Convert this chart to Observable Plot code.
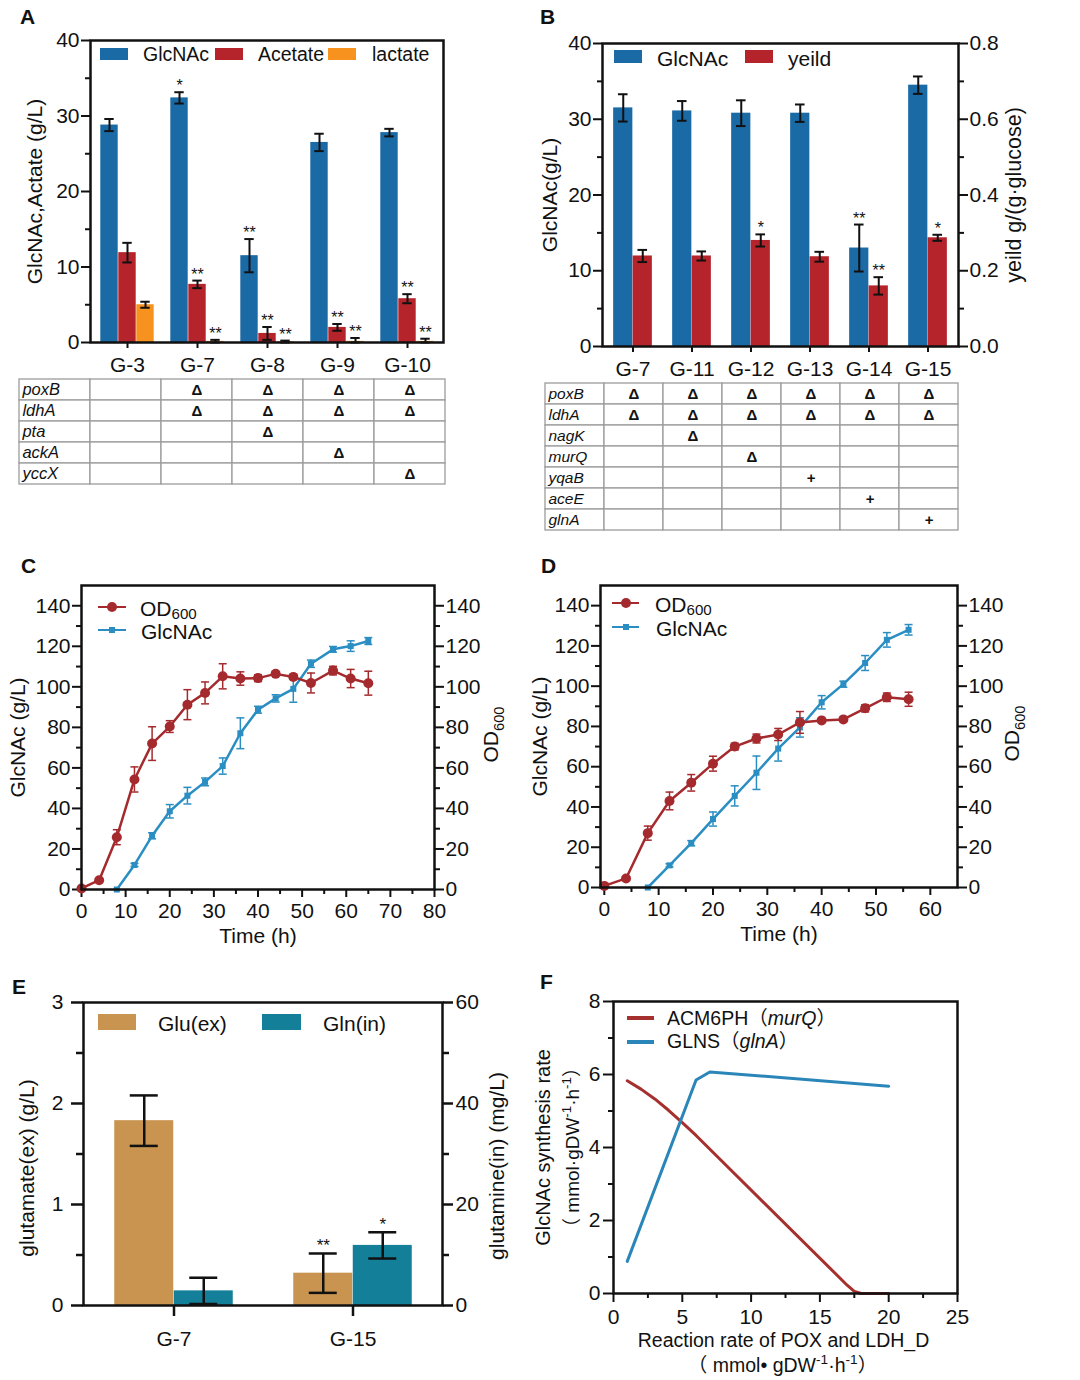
<!DOCTYPE html>
<html>
<head>
<meta charset="utf-8">
<script src="https://cdn.jsdelivr.net/npm/d3@7"></script>
<script src="https://cdn.jsdelivr.net/npm/@observablehq/plot@0.6"></script>
<style>
html,body{margin:0;padding:0;background:#fff;}
#root{position:relative;width:1080px;height:1380px;overflow:hidden;background:#fff;font-family:"Liberation Sans",Arial,Helvetica,"Noto Sans CJK SC",sans-serif;color:#111;}
#root sub{font-size:0.72em;vertical-align:-0.2em;line-height:0;}
#root svg{position:absolute;}
</style>
</head>
<body>
<div id="root"></div>
<script>
// ================= DATA =================
// Panel A
const strainsA = ["G-3","G-7","G-8","G-9","G-10"];
const seriesA = ["GlcNAc","Acetate","lactate"];
const glcnacA = [28.8,32.4,11.5,26.5,27.8];
const glcnacAErr = [0.8,0.75,2.2,1.15,0.5];
const glcnacASig = ["","*","**","",""];
const acetateA = [11.9,7.7,1.2,2.0,5.8];
const acetateAErr = [1.3,0.5,0.85,0.45,0.6];
const acetateASig = ["","**","**","**","**"];
const lactateA = [5.0,0.15,0.1,0.15,0.15];
const lactateAErr = [0.4,0.2,0.15,0.45,0.35];
const lactateASig = ["","**","**","**","**"];
const genesA = ["poxB","ldhA","pta","ackA","yccX"];
const modsA = [
  ["","Δ","Δ","Δ","Δ"],
  ["","Δ","Δ","Δ","Δ"],
  ["","","Δ","",""],
  ["","","","Δ",""],
  ["","","","","Δ"]
];
// Panel B
const strainsB = ["G-7","G-11","G-12","G-13","G-14","G-15"];
const seriesB = ["GlcNAc","yeild"];
const glcnacB = [31.5,31.1,30.8,30.8,13.0,34.5];
const glcnacBErr = [1.8,1.3,1.7,1.15,3.1,1.15];
const glcnacBSig = ["","","","","**",""];
const yieldB = [0.239,0.239,0.28,0.237,0.16,0.287];
const yieldBErr = [0.016,0.012,0.016,0.013,0.023,0.008];
const yieldBSig = ["","","*","","**","*"];
const genesB = ["poxB","ldhA","nagK","murQ","yqaB","aceE","glnA"];
const modsB = [
  ["Δ","Δ","Δ","Δ","Δ","Δ"],
  ["Δ","Δ","Δ","Δ","Δ","Δ"],
  ["","Δ","","","",""],
  ["","","Δ","","",""],
  ["","","","+","",""],
  ["","","","","+",""],
  ["","","","","","+"]
];
// Panel C
const timeC_OD = [0,4,8,12,16,20,24,28,32,36,40,44,48,52,57,61,65];
const odC = [0.5,4.6,25.8,54.3,72,80.4,91.2,97,105.2,104.1,104.3,106.4,104.9,101.9,108,104.1,101.8];
const odCErr = [0,0.5,3.7,6.2,8.3,2.9,7.4,5.4,6.2,3.3,1.7,0.9,1,4.9,2.1,4.5,5.9];
const timeC_G = [8,12,16,20,24,28,32,36,40,44,48,52,57,61,65];
const glcC = [0,12.1,26.5,38.6,46.3,53.1,60.9,77.1,88.7,94.3,99,111.4,118.5,120.1,122.6];
const glcCErr = [0,0.8,1.5,3.3,4.1,1.9,4,7.6,1.7,1.8,6.6,1.8,1.4,2.6,1.7];
// Panel D
const timeD_OD = [0,4,8,12,16,20,24,28,32,36,40,44,48,52,56];
const odD = [0.8,4.5,27,43,52,61.5,70,74,76,82,83,83.5,89,94.5,93.5];
const odDErr = [0,0.5,3.5,4.4,4.1,3.7,1.7,2.2,3,5.4,0.5,1,1.8,2.1,3.5];
const timeD_G = [8,12,16,20,24,28,32,36,40,44,48,52,56];
const glcD = [0,11,22,34,45.5,57,69,79.5,92,101,111.5,123,128];
const glcDErr = [0,0.8,1.3,3.5,5,8.3,6.2,4.8,3.3,1.5,3.7,3.6,2.6];
const seriesCD = ["OD<sub>600</sub>","GlcNAc"];
// Panel E
const strainsE = ["G-7","G-15"];
const seriesE = ["Glu(ex)","Gln(in)"];
const gluE = [1.83,0.32];
const gluEErr = [0.25,0.195];
const gluESig = ["","**"];
const glnE = [2.9,11.9];          // mg/L
const glnEErr = [2.6,2.6];
const glnESig = ["","*"];
// Panel F
const rateMurQ = [1,2,3,4,5,6,17,17.5,18,20];
const murQ = [5.83,5.6,5.33,5.02,4.68,4.33,0.22,0.06,0,0];
const rateGlnA = [1,6,7,20];
const glnA = [0.88,5.85,6.07,5.68];
const seriesF = ["ACM6PH（<i>murQ</i>）","GLNS（<i>glnA</i>）"];

// ================= STYLE =================
const FONT = '"Liberation Sans", Arial, Helvetica, "Noto Sans CJK SC", sans-serif';
const INK = "#111";
const BLUE = "#1a6aa6", RED = "#b5232b", ORANGE = "#f7921e";
const RED_L = "#a52a2d", BLUE_L = "#2a8ec2";
const TAN = "#c8944f", TEAL = "#137f98";
const RED_F = "#a5302d", BLUE_F = "#2a86b8";
const TICK = 21;

const root = document.getElementById("root");

function base(w, h, m) {
  return {width:w, height:h, marginLeft:m[0], marginRight:m[1], marginTop:m[2], marginBottom:m[3],
    style:{fontFamily:FONT, color:INK, background:"transparent", overflow:"visible"}};
}
function title(str, o) {
  return Plot.text([str], {text:d => d, textAnchor:"middle", lineAnchor:"middle", ...o});
}
function yAx(anchor, major, minor, o = {}) {
  const {fmt = d => d, fontSize = TICK, size = 9, msize = 5, pad = 2, sw = 2} = o;
  return [
    Plot.axisY(major, {anchor, tickSize:size, tickPadding:pad, tickFormat:fmt, fontSize, label:null, strokeWidth:sw}),
    Plot.axisY(minor, {anchor, tickSize:msize, tickFormat:() => "", label:null, strokeWidth:sw})
  ];
}
function xAx(major, minor, o = {}) {
  const {fontSize = TICK, size = 8, msize = 5, pad = 6, sw = 2} = o;
  return [
    Plot.axisX(major, {tickSize:size, tickPadding:pad, fontSize, label:null, strokeWidth:sw}),
    Plot.axisX(minor, {tickSize:msize, tickFormat:() => "", label:null, strokeWidth:sw})
  ];
}
function barSeries(data, o) {
  const lo = d => Math.max(0, o.y(d) - o.err(d));
  const hi = d => o.y(d) + o.err(d);
  const marks = [
    Plot.barY(data, {x:o.x, y:o.y, fill:o.fill, dx:o.dx, insetLeft:o.inset, insetRight:o.inset}),
    Plot.ruleX(data, {x:o.x, y1:lo, y2:hi, dx:o.dx, stroke:INK, strokeWidth:o.sw}),
    Plot.tickY(data, {x:o.x, y:hi, dx:o.dx, insetLeft:o.capInset, insetRight:o.capInset, stroke:INK, strokeWidth:o.sw}),
    Plot.tickY(data, {x:o.x, y:lo, dx:o.dx, insetLeft:o.capInset, insetRight:o.capInset, stroke:INK, strokeWidth:o.sw})
  ];
  if (o.sig) marks.push(Plot.text(data, {x:o.x, y:hi, text:o.sig, dx:o.dx, dy:o.sdy ?? -1, lineAnchor:"bottom", fontSize:o.sfs ?? 16}));
  return marks;
}
const capSym = {draw(ctx, size) { const r = Math.sqrt(size / Math.PI); ctx.moveTo(-r, 0); ctx.lineTo(r, 0); }};
function timeSeries(data, {stroke, symbol, r, capR}) {
  const withErr = data.filter(d => d.e > 0.6);
  return [
    Plot.ruleX(withErr, {x:"t", y1:d => d.v - d.e, y2:d => d.v + d.e, stroke, strokeWidth:1.5}),
    Plot.dot(withErr, {x:"t", y:d => d.v + d.e, symbol:capSym, r:capR, stroke, strokeWidth:1.5, fill:"none"}),
    Plot.dot(withErr, {x:"t", y:d => d.v - d.e, symbol:capSym, r:capR, stroke, strokeWidth:1.5, fill:"none"}),
    Plot.line(data, {x:"t", y:"v", stroke, strokeWidth:2.5}),
    Plot.dot(data, {x:"t", y:"v", symbol, r, fill:stroke, stroke:"none"})
  ];
}
function tablePlot(cols, genes, mods, w, h, fs) {
  const dx = ["__gene", ...cols];
  const bw = (w - 4) / dx.length;
  const cells = [];
  genes.forEach((g, r) => dx.forEach((c, k) => cells.push({r:g, c, v: k === 0 ? g : mods[r][k - 1]})));
  return Plot.plot({
    ...base(w, h, [2, 2, 2, 2]),
    x:{type:"band", domain:dx, padding:0, axis:null},
    y:{type:"band", domain:genes, padding:0, axis:null},
    marks:[
      Plot.cell(cells, {x:"c", y:"r", fill:"white", stroke:"#9c9c9c", strokeWidth:1.3, inset:0}),
      Plot.text(cells.filter(d => d.c === "__gene"), {x:"c", y:"r", text:"v", textAnchor:"start", dx:-bw / 2 + 3, fontStyle:"italic", fontSize:fs}),
      Plot.text(cells.filter(d => d.c !== "__gene" && d.v), {x:"c", y:"r", text:"v", fontSize:15, fontWeight:"bold"})
    ]
  });
}
function richText(svg) {
  svg.querySelectorAll("text").forEach(t => {
    const s = t.textContent;
    if (!/[\^_]\{/.test(s)) return;
    const fs = parseFloat(getComputedStyle(t).fontSize) || 16;
    while (t.firstChild) t.removeChild(t.firstChild);
    const re = /([\^_])\{([^}]*)\}/g;
    let last = 0, m, shift = 0;
    const add = (str, kind) => {
      if (!str) return;
      const ts = document.createElementNS("http://www.w3.org/2000/svg", "tspan");
      const target = kind === "^" ? -0.4 * fs : kind === "_" ? 0.28 * fs : 0;
      if (target !== shift) ts.setAttribute("dy", (target - shift).toFixed(2));
      shift = target;
      if (kind) ts.setAttribute("font-size", (0.7 * fs).toFixed(2));
      ts.textContent = str;
      t.appendChild(ts);
    };
    while ((m = re.exec(s))) { add(s.slice(last, m.index), null); add(m[2], m[1]); last = m.index + m[0].length; }
    add(s.slice(last), null);
  });
}
function place(svg, left, top) {
  svg.style.left = left + "px"; svg.style.top = top + "px";
  root.appendChild(svg); richText(svg); return svg;
}
function div(html, css) { const d = document.createElement("div"); d.innerHTML = html; d.style.cssText = "position:absolute;" + css; root.appendChild(d); return d; }
function label(html, x, cy, size, extra = "") { return div(html, `left:${x}px;top:${cy}px;font-size:${size}px;line-height:1;transform:translateY(-50%);white-space:nowrap;color:${INK};${extra}`); }
function swatch(x, y, w, h, c) { div("", `left:${x}px;top:${y}px;width:${w}px;height:${h}px;background:${c};`); }
function lineKey(x1, x2, cy, color, sw, marker) {
  div("", `left:${x1}px;top:${cy - sw / 2}px;width:${x2 - x1}px;height:${sw}px;background:${color};`);
  const mx = (x1 + x2) / 2;
  if (marker === "circle") div("", `left:${mx - 5}px;top:${cy - 5}px;width:10px;height:10px;border-radius:50%;background:${color};`);
  if (marker === "square") div("", `left:${mx - 3}px;top:${cy - 3}px;width:6px;height:6px;background:${color};`);
}

// ================= PANEL A =================
const recA = strainsA.map((s, i) => ({s, g:glcnacA[i], ge:glcnacAErr[i], gs:glcnacASig[i], a:acetateA[i], ae:acetateAErr[i], as:acetateASig[i], l:lactateA[i], le:lactateAErr[i], ls:lactateASig[i]}));
const optA = {x:"s", inset:26.3, capInset:30.3, sw:2};
place(Plot.plot({
  ...base(540, 375, [90, 97, 40, 33]),
  x:{type:"band", domain:strainsA, padding:0},
  y:{domain:[0, 40]},
  marks:[
    ...barSeries(recA, {...optA, y:d => d.g, err:d => d.ge, sig:d => d.gs, fill:BLUE, dx:-18}),
    ...barSeries(recA, {...optA, y:d => d.a, err:d => d.ae, sig:d => d.as, fill:RED, dx:0}),
    ...barSeries(recA, {...optA, y:d => d.l, err:d => d.le, sig:d => d.ls, fill:ORANGE, dx:18}),
    Plot.axisX({tickSize:6, tickPadding:9, fontSize:21, label:null, strokeWidth:2}),
    ...yAx("left", [0, 10, 20, 30, 40], [5, 15, 25, 35]),
    title("GlcNAc,Actate (g/L)", {frameAnchor:"left", dx:-55, rotate:-90, fontSize:21}),
    Plot.frame({stroke:INK, strokeWidth:2.5})
  ]
}), 0, 0);
place(tablePlot(strainsA, genesA, modsA, 431, 113, 16.5), 16, 375);
[[BLUE, 100, 143], [RED, 215, 258], [ORANGE, 328, 372]].forEach(([c, sx, tx], i) => {
  swatch(sx, 48, 28, 12, c); label(seriesA[i], tx, 55, 19.5);
});

// ================= PANEL B =================
const recB = strainsB.map((s, i) => ({s, g:glcnacB[i], ge:glcnacBErr[i], gs:glcnacBSig[i], y:yieldB[i], ye:yieldBErr[i], ys:yieldBSig[i]}));
const optB = {x:"s", inset:19.9, capInset:24.7, sw:2};
place(Plot.plot({
  ...base(540, 380, [62, 122, 43, 34]),
  x:{type:"band", domain:strainsB, padding:0},
  y:{domain:[0, 40]},
  marks:[
    ...barSeries(recB, {...optB, y:d => d.g, err:d => d.ge, sig:d => d.gs, fill:BLUE, dx:-9.75}),
    ...barSeries(recB, {...optB, y:d => d.y * 50, err:d => d.ye * 50, sig:d => d.ys, fill:RED, dx:9.75}),
    Plot.axisX({tickSize:6, tickPadding:9, fontSize:21, label:null, strokeWidth:2}),
    ...yAx("left", [0, 10, 20, 30, 40], [5, 15, 25, 35]),
    ...yAx("right", [0, 10, 20, 30, 40], [5, 15, 25, 35], {fmt:d => (d / 50).toFixed(1)}),
    title("GlcNAc(g/L)", {frameAnchor:"left", dx:-52, rotate:-90, fontSize:21}),
    title("yeild g/(g·glucose)", {frameAnchor:"right", dx:56, rotate:-90, fontSize:21.5}),
    Plot.frame({stroke:INK, strokeWidth:2.5})
  ]
}), 540, 0);
place(tablePlot(strainsB, genesB, modsB, 417, 151, 15.5), 543, 381);
[[BLUE, 614, 657], [RED, 745, 788]].forEach(([c, sx, tx], i) => {
  swatch(sx, 50, 28, 13, c); label(seriesB[i], tx, 58, 21);
});

// ================= PANEL C / D =================
function growthPlot(odT, od, odE, gT, g, gE, xDomain, xMajor, xMinor, m, ylDx, odDx) {
  const recOD = od.map((v, i) => ({t:odT[i], v, e:odE[i]}));
  const recG = g.map((v, i) => ({t:gT[i], v, e:gE[i]}));
  const yMajor = [0, 20, 40, 60, 80, 100, 120, 140], yMinor = [10, 30, 50, 70, 90, 110, 130];
  return Plot.plot({
    ...base(540, 400, m),
    x:{domain:xDomain}, y:{domain:[0, 150]},
    marks:[
      ...xAx(xMajor, xMinor),
      ...yAx("left", yMajor, yMinor),
      ...yAx("right", yMajor, yMinor),
      ...timeSeries(recG, {stroke:BLUE_L, symbol:"square", r:3.4, capR:4}),
      ...timeSeries(recOD, {stroke:RED_L, symbol:"circle", r:5, capR:4}),
      title("GlcNAc (g/L)", {frameAnchor:"left", dx:ylDx, rotate:-90, fontSize:21}),
      title("OD_{600}", {frameAnchor:"right", dx:odDx, dy:-3, rotate:-90, fontSize:21}),
      title("Time (h)", {frameAnchor:"bottom", dy:47, fontSize:21}),
      Plot.frame({stroke:INK, strokeWidth:2.5})
    ]
  });
}
place(growthPlot(timeC_OD, odC, odCErr, timeC_G, glcC, glcCErr, [0, 80],
  [0, 10, 20, 30, 40, 50, 60, 70, 80], [5, 15, 25, 35, 45, 55, 65, 75], [81, 106, 25, 71], -63, 57), 0, 560);
place(growthPlot(timeD_OD, odD, odDErr, timeD_G, glcD, glcDErr, [-0.7, 65],
  [0, 10, 20, 30, 40, 50, 60], [5, 15, 25, 35, 45, 55], [60, 123, 25, 73], -60, 55), 540, 560);
lineKey(98, 126, 607, RED_L, 2.5, "circle"); label(seriesCD[0], 140, 608, 21);
lineKey(98, 126, 630, BLUE_L, 2.5, "square"); label(seriesCD[1], 141, 631, 21);
lineKey(612, 639, 603, RED_L, 2.5, "circle"); label(seriesCD[0], 655, 604, 21);
lineKey(612, 639, 627, BLUE_L, 2.5, "square"); label(seriesCD[1], 656, 628, 21);

// ================= PANEL E =================
const recE = strainsE.map((s, i) => ({s, glu:gluE[i], gluE:gluEErr[i], gluS:gluESig[i], gln:glnE[i], glnEr:glnEErr[i], glnS:glnESig[i]}));
const optE = {x:"s", inset:60, capInset:75.5, sw:2.5, sfs:17, sdy:-2};
place(Plot.plot({
  ...base(540, 395, [83, 98, 17, 75]),
  x:{type:"band", domain:strainsE, padding:0},
  y:{domain:[0, 3]},
  marks:[
    ...barSeries(recE, {...optE, y:d => d.glu, err:d => d.gluE, sig:d => d.gluS, fill:TAN, dx:-29.75}),
    ...barSeries(recE, {...optE, y:d => d.gln / 20, err:d => d.glnEr / 20, sig:d => d.glnS, fill:TEAL, dx:29.75}),
    Plot.axisX({tickSize:11, tickPadding:15, fontSize:21, label:null, strokeWidth:2.5}),
    ...yAx("left", [0, 1, 2, 3], [0.5, 1.5, 2.5], {size:12, msize:7, pad:8, sw:2.5}),
    ...yAx("right", [0, 1, 2, 3], [0.5, 1.5, 2.5], {fmt:d => d * 20, size:10, msize:6, pad:3, sw:2.5}),
    title("glutamate(ex) (g/L)", {frameAnchor:"left", dx:-56, dy:14, rotate:-90, fontSize:21}),
    title("glutamine(in) (mg/L)", {frameAnchor:"right", dx:55, dy:12, rotate:-90, fontSize:21}),
    Plot.frame({stroke:INK, strokeWidth:2.5})
  ]
}), 0, 985);
swatch(98, 1014, 38, 16, TAN); label(seriesE[0], 158, 1023, 21);
swatch(262, 1014, 39, 16, TEAL); label(seriesE[1], 323, 1023, 21);

// ================= PANEL F =================
const recMurQ = murQ.map((v, i) => ({x:rateMurQ[i], y:v}));
const recGlnA = glnA.map((v, i) => ({x:rateGlnA[i], y:v}));
place(Plot.plot({
  ...base(540, 395, [73, 123, 16, 87]),
  x:{domain:[0, 25]}, y:{domain:[0, 8]},
  marks:[
    Plot.line(recMurQ, {x:"x", y:"y", stroke:RED_F, strokeWidth:3}),
    Plot.line(recGlnA, {x:"x", y:"y", stroke:BLUE_F, strokeWidth:3}),
    ...xAx([0, 5, 10, 15, 20, 25], [2.5, 7.5, 12.5, 17.5, 22.5], {size:9, pad:7}),
    ...yAx("left", [0, 2, 4, 6, 8], [1, 3, 5, 7], {size:10, pad:3}),
    title("GlcNAc synthesis rate", {frameAnchor:"left", dx:-70, rotate:-90, fontSize:20}),
    title("（ mmol·gDW^{-1}·h^{-1}）", {frameAnchor:"left", dx:-41, rotate:-90, fontSize:19}),
    title("Reaction rate of POX and LDH_D", {frameAnchor:"bottom", dx:-2, dy:47, fontSize:19.5}),
    title("（ mmol• gDW^{-1}·h^{-1}）", {frameAnchor:"bottom", dx:-3, dy:72, fontSize:19.5}),
    Plot.frame({stroke:INK, strokeWidth:2.5})
  ]
}), 540, 985);
lineKey(627, 654, 1018, RED_F, 4, null); label(seriesF[0], 667, 1019, 19.5);
lineKey(627, 654, 1042, BLUE_F, 4, null); label(seriesF[1], 667, 1042, 19.5);

// ================= PANEL LETTERS =================
[["A", 20, 16], ["B", 540, 16], ["C", 21, 565], ["D", 541, 565], ["E", 12, 986], ["F", 540, 981]].forEach(([t, x, y]) =>
  label(t, x, y, 21, "font-weight:bold;"));
</script>
</body>
</html>
